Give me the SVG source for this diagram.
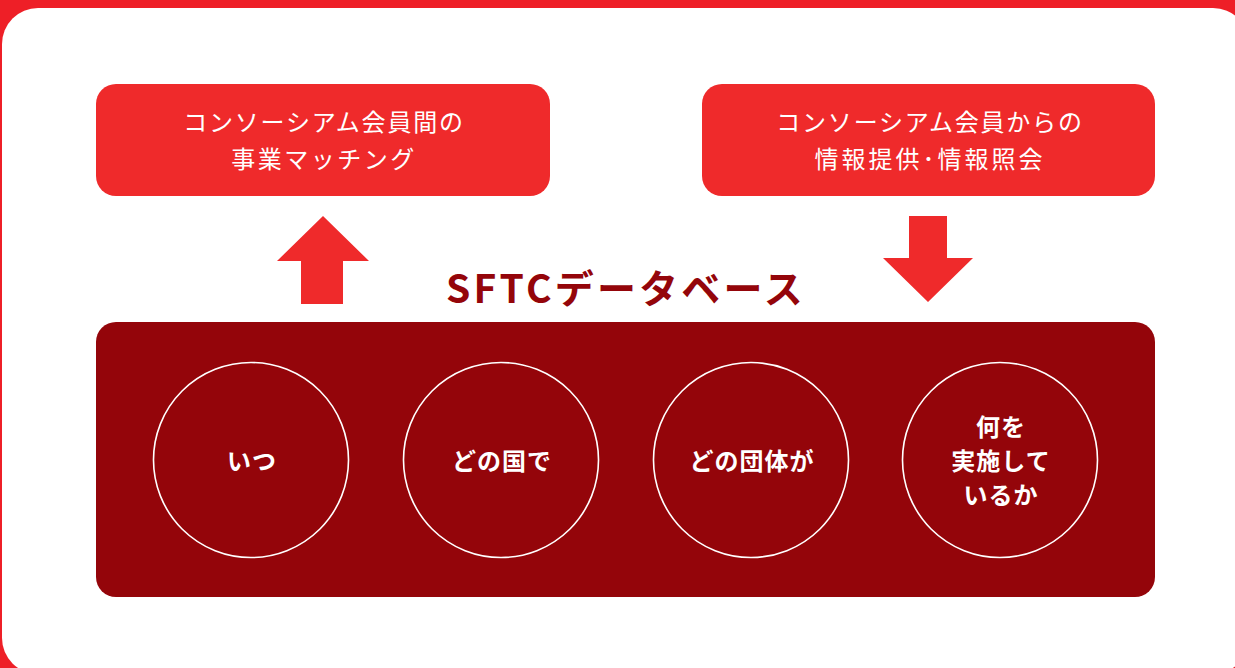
<svg xmlns="http://www.w3.org/2000/svg" width="1235" height="668" viewBox="0 0 1235 668">
<style>
.box{fill:#ef2a2b}
.dark{fill:#94050a}
.arrow{fill:#ef2a2b}
.bt{font-family:"Noto Sans CJK JP","Noto Sans",sans-serif;font-size:24px;fill:#fff;text-anchor:middle;letter-spacing:1.8px}
.ct{font-family:"Noto Sans CJK JP","Noto Sans",sans-serif;font-size:24px;font-weight:bold;fill:#fff;text-anchor:middle;letter-spacing:1px}
.ring{fill:none;stroke:#fff;stroke-width:1.6}
.title{font-family:"Noto Sans CJK JP","Noto Sans",sans-serif;font-size:39px;font-weight:bold;fill:#94050a;text-anchor:middle;letter-spacing:3.2px}
</style>
<rect x="0" y="0" width="1235" height="668" fill="#ee1f27"/>
<rect x="2" y="8" width="1247" height="666" rx="36" fill="#fff"/>
<g id="node-matching">
<rect class="box" x="96" y="84" width="454" height="112" rx="20"/>
<text class="bt" x="324" y="131">コンソーシアム会員間の</text>
<text class="bt" x="324" y="168" style="letter-spacing:2.5px">事業マッチング</text>
</g>
<g id="node-info">
<rect class="box" x="702" y="84" width="453" height="112" rx="20"/>
<text class="bt" x="930" y="131">コンソーシアム会員からの</text>
<text class="bt" x="930" y="168" style="letter-spacing:3px">情報提供･情報照会</text>
</g>
<g id="connectors">
<polygon class="arrow" points="323,216 369,261 343,261 343,304 301,304 301,261 277,261"/>
<polygon class="arrow" points="909,216 947,216 947,258 973,258 928,302 883,258 909,258"/>
</g>
<g id="node-database">
<text class="title" x="626" y="303">SFTCデータベース</text>
<rect class="dark" x="96" y="322" width="1059" height="275" rx="20"/>
</g>
<g id="node-when">
<circle class="ring" cx="251" cy="460" r="97.5"/>
<text class="ct" x="252" y="470">いつ</text>
</g>
<g id="node-where">
<circle class="ring" cx="501" cy="460" r="97.5"/>
<text class="ct" x="502" y="470">どの国で</text>
</g>
<g id="node-who">
<circle class="ring" cx="751" cy="460" r="97.5"/>
<text class="ct" x="752" y="470">どの団体が</text>
</g>
<g id="node-what">
<circle class="ring" cx="1000" cy="460" r="97.5"/>
<text class="ct" x="1001" y="436">何を</text>
<text class="ct" x="1001" y="470">実施して</text>
<text class="ct" x="1001" y="504">いるか</text>
</g>
</svg>
